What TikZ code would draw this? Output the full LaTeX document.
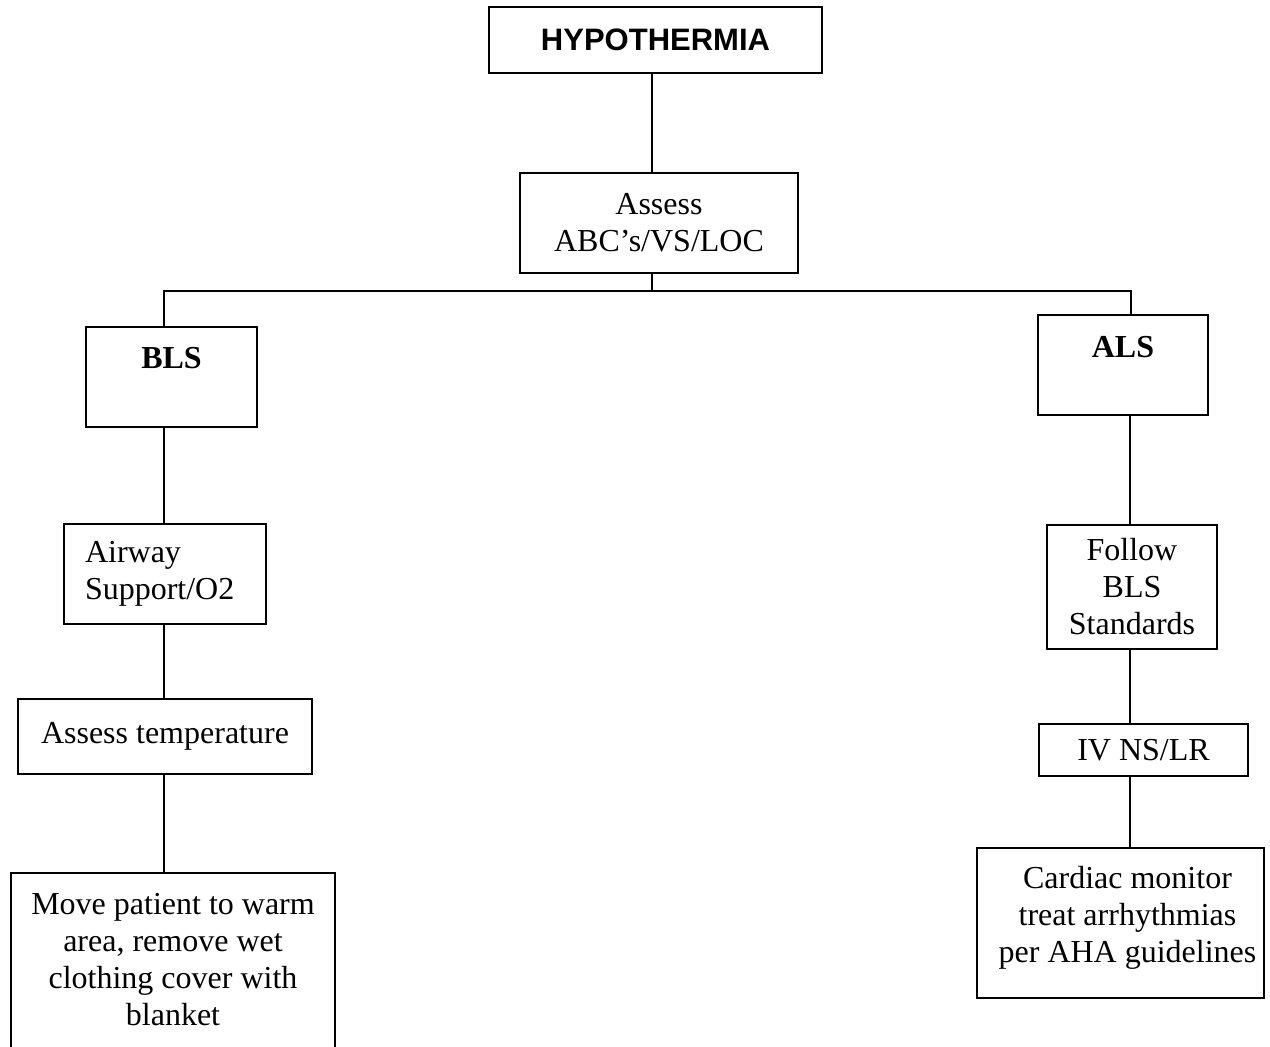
\documentclass[tikz,border=0pt]{standalone}
\usepackage{fontspec}
\setmainfont{Liberation Serif}
\newfontfamily\headsans{Liberation Sans}
\usetikzlibrary{positioning}

\newcommand{\boxfont}{\fontsize{32}{37}\selectfont}

\begin{document}
\begin{tikzpicture}[x=1pt, y=-1pt, font=\boxfont,
    every node/.style={align=center},
    box/.style={rectangle, draw, line width=1.3pt, inner sep=0pt},
    toptext/.style={anchor=north, inner sep=0pt, align=center},
    link/.style={line width=1.3pt},
]

\useasboundingbox (0,0) rectangle (1270,1047);

\node[box, minimum width=333pt, minimum height=66pt] (hypo) at (655.5,40)
  {\fontsize{31}{36}\selectfont\headsans\bfseries HYPOTHERMIA};

\node[box, minimum width=278pt, minimum height=100pt] (assess) at (659,223)
  {Assess\\ABC’s/VS/LOC};

% branch points
\coordinate (trunk) at (652,291);
\coordinate (lsplit) at (164,291);
\coordinate (rsplit) at (1131,291);
\coordinate (rline) at (1130,291);

% BLS side
\node[box, minimum width=171pt, minimum height=100pt,
  label={[toptext, yshift=-21pt]north:{\bfseries BLS}}] (bls) at (171.5,377) {};

\node[box, minimum width=202pt, minimum height=100pt, text width=160pt,
  inner xsep=21pt, align=left] (airway) at (165,574) {Airway\\Support/O2};

\node[box, minimum width=294pt, minimum height=75pt] (temp) at (165,736.5)
  {Assess temperature};

\node[box, minimum width=324pt, minimum height=177pt,
  label={[toptext, yshift=-21pt]north:{Move patient to warm\\area, remove wet\\clothing cover with\\blanket}}]
  (move) at (173,961.5) {};

% ALS side
\node[box, minimum width=170pt, minimum height=100pt,
  label={[toptext, yshift=-22pt]north:{\bfseries ALS}}] (als) at (1123,365) {};

\node[box, minimum width=170pt, minimum height=124pt] (follow) at (1132,587)
  {Follow\\BLS\\Standards};

\node[box, minimum width=209pt, minimum height=52pt] (iv) at (1143.5,750)
  {IV NS/LR};

\node[box, minimum width=287pt, minimum height=150pt,
  label={[toptext, yshift=-19pt, xshift=7pt]north:{Cardiac monitor\\treat arrhythmias\\per AHA guidelines}}]
  (cardiac) at (1120.5,923) {};

\draw[link] (hypo.south -| trunk) -- (assess.north -| trunk);
\draw[link] (assess.south -| trunk) -- (trunk);
\draw[link] (bls.north -| lsplit) -- (lsplit) -- (rsplit) -- (als.north -| rsplit);

\foreach \a/\b in {bls/airway, airway/temp, temp/move}
  \draw[link] (\a.south -| lsplit) -- (\b.north -| lsplit);

\foreach \a/\b in {als/follow, follow/iv, iv/cardiac}
  \draw[link] (\a.south -| rline) -- (\b.north -| rline);

\end{tikzpicture}
\end{document}
